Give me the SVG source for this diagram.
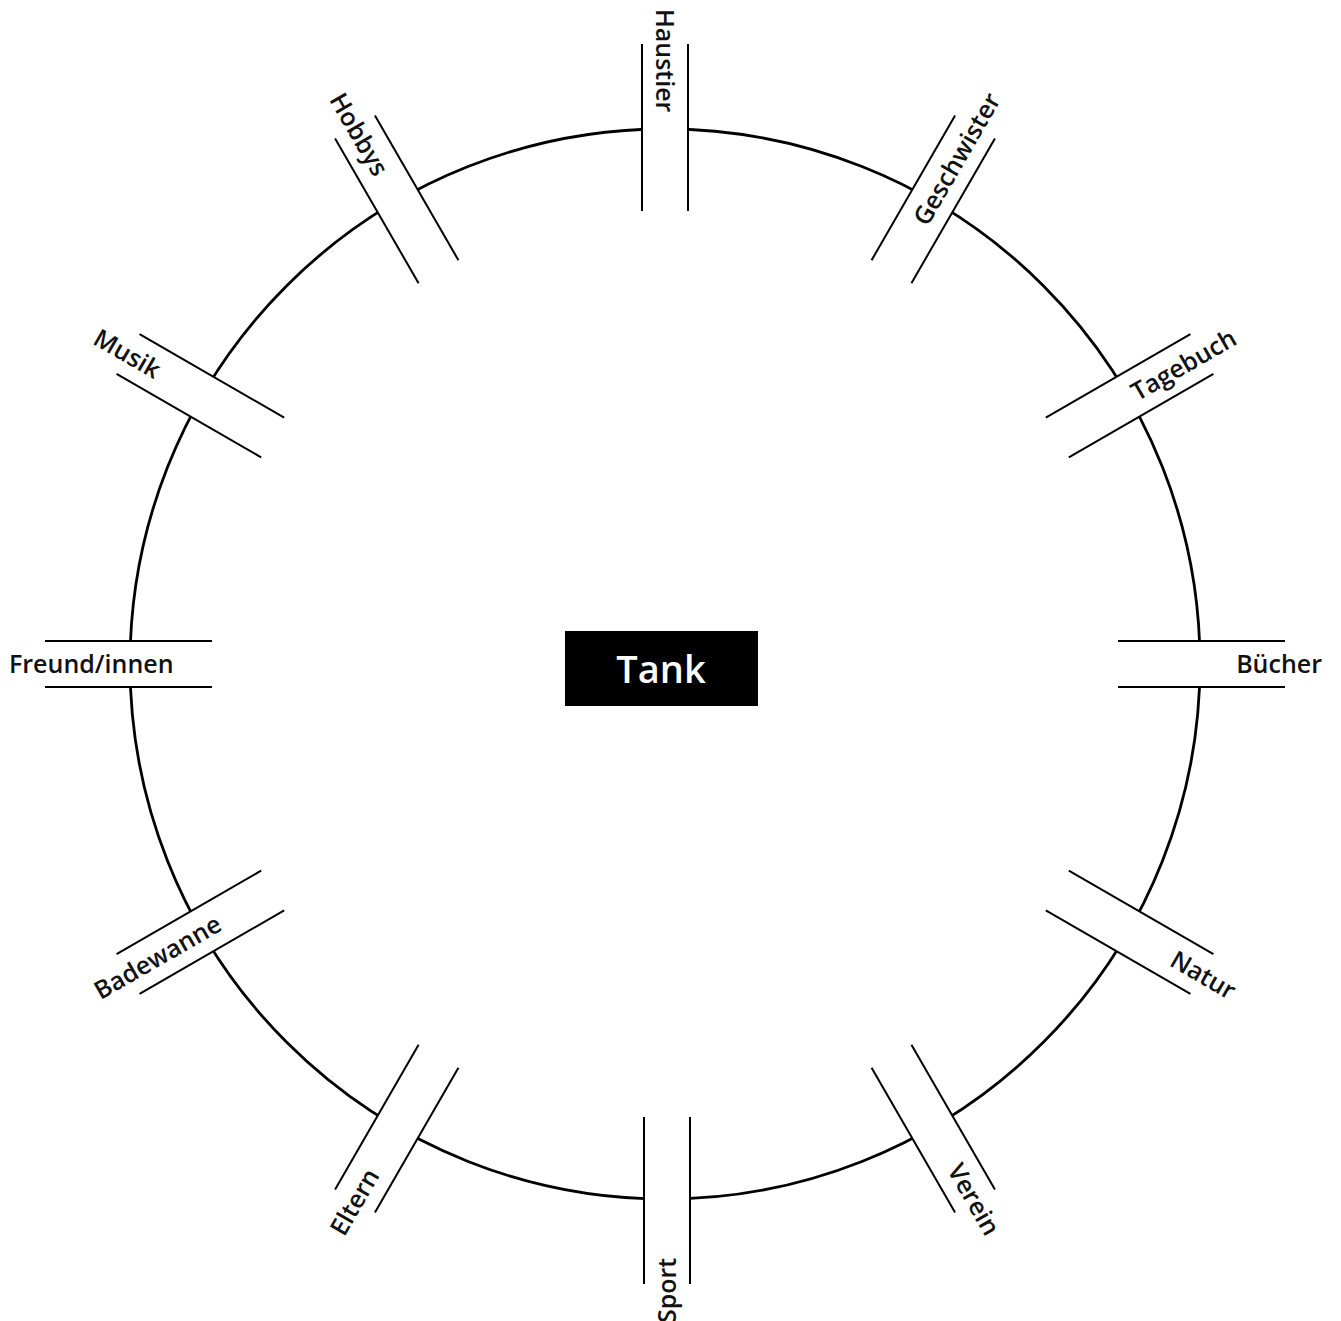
<svg xmlns="http://www.w3.org/2000/svg" width="1341" height="1321" viewBox="0 0 1341 1321">
<style>
.ring{fill:none;stroke:#000;stroke-width:2.8}
.pipe rect{fill:#fff;stroke:none}
.pipe line{stroke:#000;stroke-width:2}
.lbl{font-family:"Open Sans","Noto Sans",sans-serif;font-weight:600;font-size:25px;fill:#111}
.tank{font-family:"Open Sans","Noto Sans",sans-serif;font-weight:600;font-size:38px;fill:#fff}
</style>
<rect width="1341" height="1321" fill="#fff"/>
<g id="connectors">
<circle class="ring" cx="665" cy="664" r="535"/>
</g>
<g id="pipe-buecher" class="pipe" transform="translate(665,664) rotate(0)">
<rect x="453" y="-23" width="167" height="46"/>
<line x1="453" y1="-23" x2="620" y2="-23"/><line x1="453" y1="23" x2="620" y2="23"/>
<text class="lbl" x="657" y="9" text-anchor="end">Bücher</text>
</g>
<g id="pipe-natur" class="pipe" transform="translate(665,664) rotate(30)">
<rect x="453" y="-23" width="167" height="46"/>
<line x1="453" y1="-23" x2="620" y2="-23"/><line x1="453" y1="23" x2="620" y2="23"/>
<text class="lbl" x="657" y="9" text-anchor="end">Natur</text>
</g>
<g id="pipe-verein" class="pipe" transform="translate(665,664) rotate(60)">
<rect x="453" y="-23" width="167" height="46"/>
<line x1="453" y1="-23" x2="620" y2="-23"/><line x1="453" y1="23" x2="620" y2="23"/>
<text class="lbl" x="657" y="9" text-anchor="end">Verein</text>
</g>
<g id="pipe-sport" class="pipe" transform="translate(667,664) rotate(90)">
<rect x="453" y="-23" width="167" height="46"/>
<line x1="453" y1="-23" x2="620" y2="-23"/><line x1="453" y1="23" x2="620" y2="23"/>
<text class="lbl" transform="rotate(180)" x="-659" y="9">Sport</text>
</g>
<g id="pipe-eltern" class="pipe" transform="translate(665,664) rotate(120)">
<rect x="453" y="-23" width="167" height="46"/>
<line x1="453" y1="-23" x2="620" y2="-23"/><line x1="453" y1="23" x2="620" y2="23"/>
<text class="lbl" transform="rotate(180)" x="-657" y="9">Eltern</text>
</g>
<g id="pipe-badewanne" class="pipe" transform="translate(665,664) rotate(150)">
<rect x="453" y="-23" width="167" height="46"/>
<line x1="453" y1="-23" x2="620" y2="-23"/><line x1="453" y1="23" x2="620" y2="23"/>
<text class="lbl" transform="rotate(180)" x="-657" y="9">Badewanne</text>
</g>
<g id="pipe-freunde" class="pipe" transform="translate(665,664) rotate(180)">
<rect x="453" y="-23" width="167" height="46"/>
<line x1="453" y1="-23" x2="620" y2="-23"/><line x1="453" y1="23" x2="620" y2="23"/>
<text class="lbl" transform="rotate(180)" x="-656" y="9">Freund/innen</text>
</g>
<g id="pipe-musik" class="pipe" transform="translate(665,664) rotate(210)">
<rect x="453" y="-23" width="167" height="46"/>
<line x1="453" y1="-23" x2="620" y2="-23"/><line x1="453" y1="23" x2="620" y2="23"/>
<text class="lbl" transform="rotate(180)" x="-657" y="9">Musik</text>
</g>
<g id="pipe-hobbys" class="pipe" transform="translate(665,664) rotate(240)">
<rect x="453" y="-23" width="167" height="46"/>
<line x1="453" y1="-23" x2="620" y2="-23"/><line x1="453" y1="23" x2="620" y2="23"/>
<text class="lbl" transform="rotate(180)" x="-657" y="9">Hobbys</text>
</g>
<g id="pipe-haustier" class="pipe" transform="translate(665,664) rotate(270)">
<rect x="453" y="-23" width="167" height="46"/>
<line x1="453" y1="-23" x2="620" y2="-23"/><line x1="453" y1="23" x2="620" y2="23"/>
<text class="lbl" transform="rotate(180)" x="-655" y="9">Haustier</text>
</g>
<g id="pipe-geschwister" class="pipe" transform="translate(665,664) rotate(300)">
<rect x="453" y="-23" width="167" height="46"/>
<line x1="453" y1="-23" x2="620" y2="-23"/><line x1="453" y1="23" x2="620" y2="23"/>
<text class="lbl" x="657" y="9" text-anchor="end">Geschwister</text>
</g>
<g id="pipe-tagebuch" class="pipe" transform="translate(665,664) rotate(330)">
<rect x="453" y="-23" width="167" height="46"/>
<line x1="453" y1="-23" x2="620" y2="-23"/><line x1="453" y1="23" x2="620" y2="23"/>
<text class="lbl" x="657" y="9" text-anchor="end">Tagebuch</text>
</g>
<g id="tank">
<rect x="565" y="631" width="193" height="75" fill="#000"/>
<text class="tank" x="661" y="683" text-anchor="middle">Tank</text>
</g>
</svg>
